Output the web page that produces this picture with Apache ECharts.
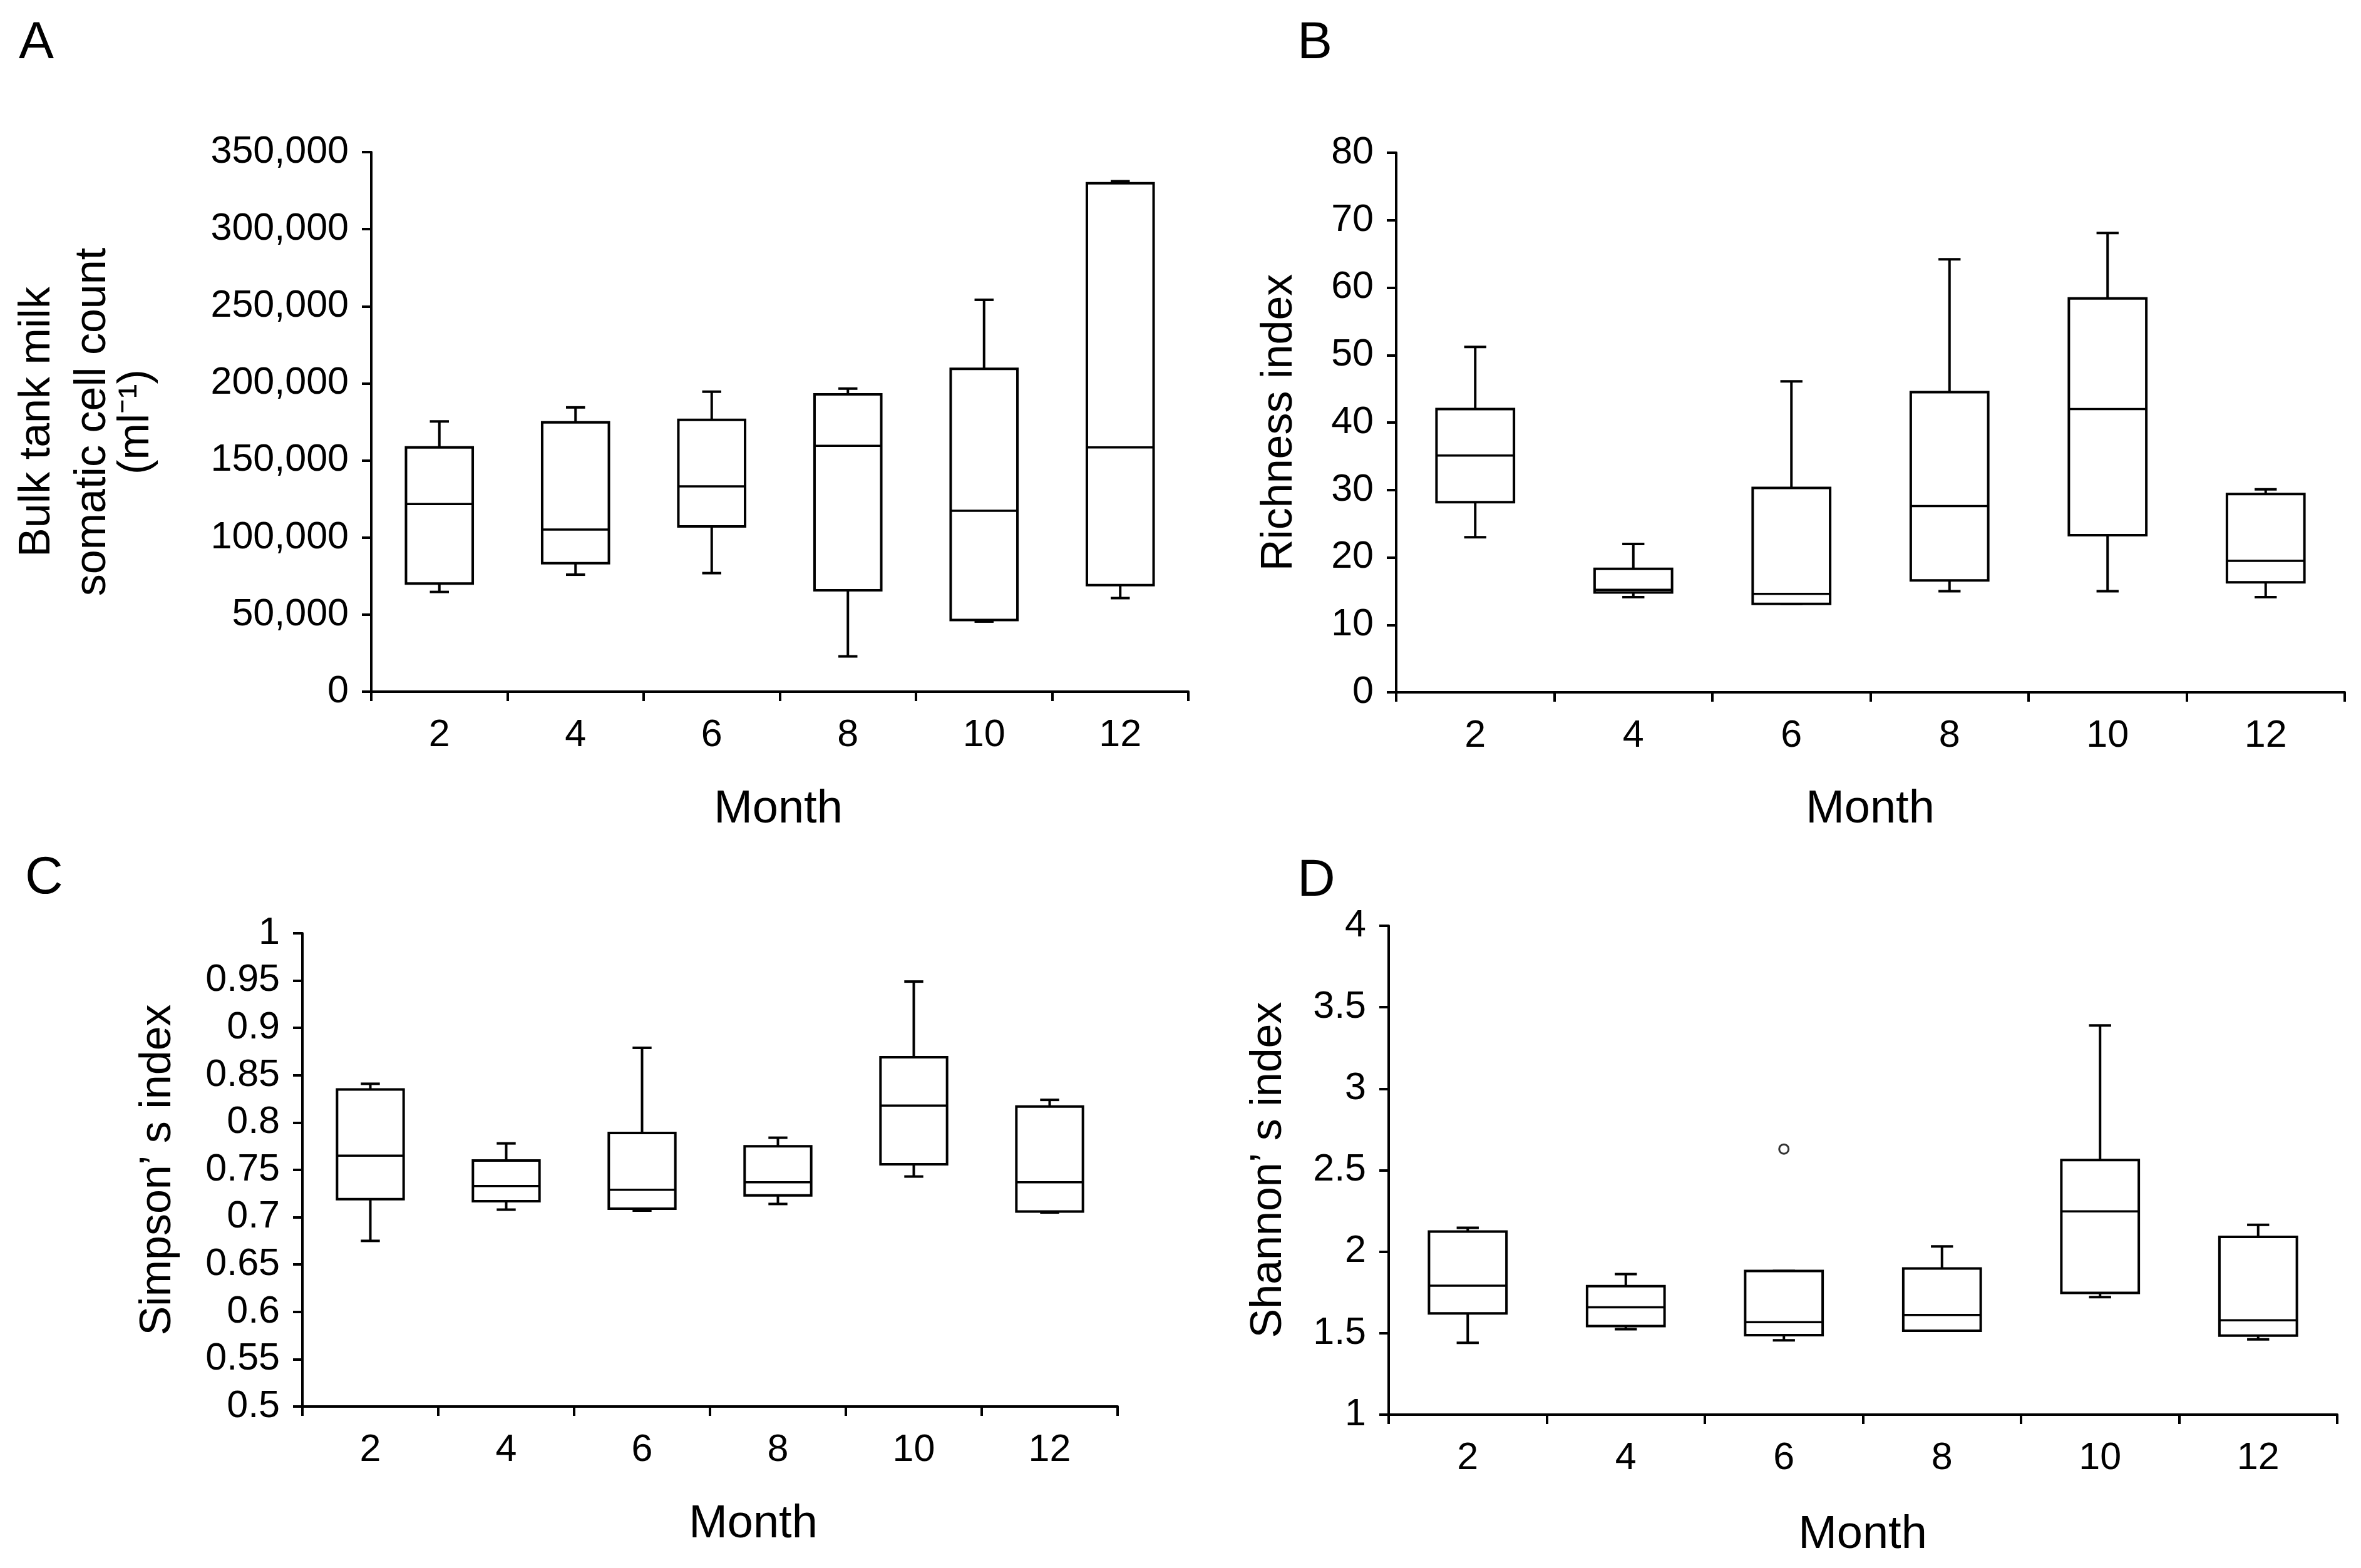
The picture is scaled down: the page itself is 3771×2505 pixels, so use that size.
<!DOCTYPE html>
<html>
<head>
<meta charset="utf-8">
<script src="https://cdn.jsdelivr.net/npm/echarts@6/dist/echarts.min.js"></script>
<style>
html,body{margin:0;padding:0;background:#fff;}
#c{width:3771px;height:2505px;}
</style>
</head>
<body>
<div id="c"></div>
<script>
// ---- data (each row: [min, Q1, median, Q3, max]) ----
var months = ['2', '4', '6', '8', '10', '12'];
var sccA = [
  [64700, 70100, 121700, 158500, 175300],
  [75900, 83300, 105200, 174700, 184400],
  [76900, 107200, 133200, 176300, 194600],
  [22900, 65800, 159500, 192900, 196600],
  [45500, 46500, 117300, 209400, 254200],
  [60700, 69100, 158500, 329800, 331100]
];
var richnessB = [
  [23.0, 28.2, 35.1, 42.0, 51.2],
  [14.1, 14.8, 15.2, 18.3, 22.0],
  [13.1, 13.1, 14.6, 30.3, 46.1],
  [15.0, 16.6, 27.6, 44.5, 64.2],
  [15.0, 23.3, 42.0, 58.4, 68.1],
  [14.1, 16.3, 19.5, 29.4, 30.1]
];
var simpsonC = [
  [0.675, 0.719, 0.765, 0.835, 0.841],
  [0.708, 0.717, 0.733, 0.760, 0.778],
  [0.707, 0.709, 0.729, 0.789, 0.879],
  [0.714, 0.723, 0.737, 0.775, 0.784],
  [0.743, 0.756, 0.818, 0.869, 0.949],
  [0.705, 0.706, 0.737, 0.817, 0.824]
];
var shannonD = [
  [1.441, 1.621, 1.791, 2.124, 2.147],
  [1.524, 1.544, 1.659, 1.788, 1.862],
  [1.456, 1.488, 1.568, 1.882, 1.882],
  [1.515, 1.515, 1.612, 1.897, 2.032],
  [1.721, 1.747, 2.247, 2.562, 3.388],
  [1.462, 1.485, 1.579, 2.091, 2.165]
];
var outliersD = [['6', 2.63]];

var panelLetters = ['A', 'B', 'C', 'D'];
var yTitleLinesA = ['Bulk tank milk', 'somatic cell count', '(ml\u207B\u00B9)'];
var yTitles = ['Richness index', 'Simpson\u2019 s index', 'Shannon\u2019 s index'];
var yAxisRanges = [[0, 350000, 50000], [0, 80, 10], [0.5, 1, 0.05], [1, 4, 0.5]];
var xTitle = 'Month';

// ---- layout ----
var FONT = 'Liberation Sans, Arial, sans-serif';
var grids = [
  {left: 593, top: 243, width: 1305, height: 862},
  {left: 2230, top: 244, width: 1515, height: 862},
  {left: 483, top: 1491, width: 1302, height: 756},
  {left: 2218, top: 1479, width: 1515, height: 781}
];
var letterPos = [[30, 28], [2072, 28], [40, 1362], [2072, 1366]];
var yTitleAPos = [[60, 674], [149, 674], [218, 674]];
var yTitlePos = [[2044, 675], [253, 1869], [2027, 1869]];
var monthPos = [[1243, 1294], [2987, 1294], [1203, 2436], [2975, 2453]];

function renderBox(params, api) {
  var x = api.value(0);
  var band = api.size([1, 0])[0];
  var bw = band * 0.49, cw = band * 0.14;
  var pMin = api.coord([x, api.value(1)]);
  var pQ1 = api.coord([x, api.value(2)]);
  var pMed = api.coord([x, api.value(3)]);
  var pQ3 = api.coord([x, api.value(4)]);
  var pMax = api.coord([x, api.value(5)]);
  var cx = pMin[0];
  var ls = {stroke: '#000', lineWidth: 4, fill: null};
  return {
    type: 'group',
    children: [
      {type: 'line', shape: {x1: cx, y1: pMax[1], x2: cx, y2: pQ3[1]}, style: ls},
      {type: 'line', shape: {x1: cx, y1: pQ1[1], x2: cx, y2: pMin[1]}, style: ls},
      {type: 'line', shape: {x1: cx - cw / 2, y1: pMax[1], x2: cx + cw / 2, y2: pMax[1]}, style: ls},
      {type: 'line', shape: {x1: cx - cw / 2, y1: pMin[1], x2: cx + cw / 2, y2: pMin[1]}, style: ls},
      {type: 'rect', shape: {x: cx - bw / 2, y: pQ3[1], width: bw, height: pQ1[1] - pQ3[1]},
        style: {stroke: '#000', lineWidth: 4, fill: '#fff'}},
      {type: 'line', shape: {x1: cx - bw / 2, y1: pMed[1], x2: cx + bw / 2, y2: pMed[1]},
        style: {stroke: '#000', lineWidth: 3.5}}
    ]
  };
}

var datasets = [sccA, richnessB, simpsonC, shannonD];
var graphics = [];
panelLetters.forEach(function (t, i) {
  graphics.push({type: 'text', left: letterPos[i][0], top: letterPos[i][1],
    style: {text: t, fontSize: 84, fontFamily: FONT, fill: '#000'}});
});
yTitleLinesA.forEach(function (t, i) {
  graphics.push({type: 'text', x: yTitleAPos[i][0], y: yTitleAPos[i][1], rotation: Math.PI / 2,
    style: {text: t, fontSize: 70, fontFamily: FONT, fill: '#000', align: 'center', verticalAlign: 'middle'}});
});
yTitles.forEach(function (t, i) {
  graphics.push({type: 'text', x: yTitlePos[i][0], y: yTitlePos[i][1], rotation: Math.PI / 2,
    style: {text: t, fontSize: 70, fontFamily: FONT, fill: '#000', align: 'center', verticalAlign: 'middle'}});
});
monthPos.forEach(function (p) {
  graphics.push({type: 'text', x: p[0], y: p[1],
    style: {text: xTitle, fontSize: 74, fontFamily: FONT, fill: '#000', align: 'center', verticalAlign: 'middle'}});
});

var option = {
  backgroundColor: '#fff',
  animation: false,
  textStyle: {fontFamily: FONT, color: '#000'},
  grid: grids,
  xAxis: grids.map(function (g, i) {
    return {
      type: 'category', gridIndex: i, data: months, boundaryGap: true,
      axisLine: {lineStyle: {color: '#000', width: 4}},
      axisTick: {show: true, alignWithLabel: false, length: 15, lineStyle: {color: '#000', width: 4}},
      axisLabel: {fontSize: 61, color: '#000', fontFamily: FONT, margin: 40},
      splitLine: {show: false}
    };
  }),
  yAxis: grids.map(function (g, i) {
    var r = yAxisRanges[i];
    return {
      type: 'value', gridIndex: i, min: r[0], max: r[1], interval: r[2],
      axisLine: {show: true, lineStyle: {color: '#000', width: 4}},
      axisTick: {show: true, length: 15, lineStyle: {color: '#000', width: 4}},
      axisLabel: {fontSize: 61, color: '#000', fontFamily: FONT, margin: 36,
        formatter: function (v) {
          if (i === 0) return v.toLocaleString('en-US');
          return String(Math.round(v * 1000) / 1000);
        }},
      splitLine: {show: false}
    };
  }),
  series: datasets.map(function (d, i) {
    return {
      type: 'custom', xAxisIndex: i, yAxisIndex: i,
      renderItem: renderBox,
      encode: {x: 0, y: [1, 2, 3, 4, 5]},
      data: d.map(function (row, k) { return [k].concat(row); })
    };
  }).concat([{
    type: 'scatter', xAxisIndex: 3, yAxisIndex: 3,
    symbol: 'circle', symbolSize: 15,
    itemStyle: {color: '#fff', borderColor: '#000', borderWidth: 3},
    data: outliersD
  }]),
  graphic: graphics
};
var chart = echarts.init(document.getElementById('c'), null, {renderer: 'canvas'});
chart.setOption(option);
</script>
</body>
</html>
